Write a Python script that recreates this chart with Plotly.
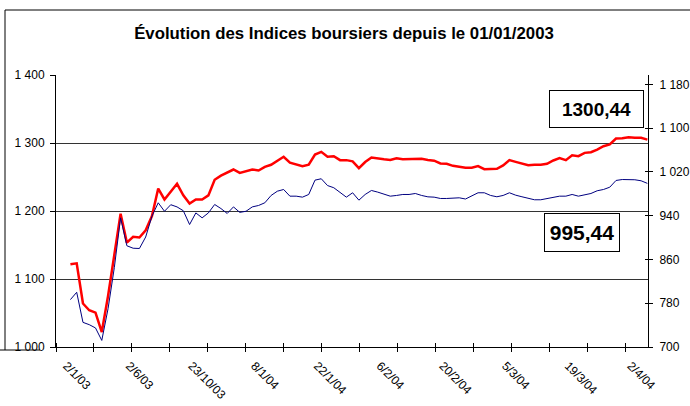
import plotly.graph_objects as go

# ---- data ----
dates = [
    "2/1/03", "17/1/03", "3/2/03", "17/2/03", "3/3/03", "17/3/03", "1/4/03", "15/4/03", "2/5/03", "16/5/03",
    "2/6/03", "16/6/03", "1/7/03", "15/7/03", "31/7/03", "14/8/03", "28/8/03", "11/9/03", "25/9/03", "9/10/03",
    "23/10/03", "30/10/03", "6/11/03", "13/11/03", "20/11/03", "27/11/03", "4/12/03", "11/12/03", "18/12/03", "7/1/04",
    "8/1/04", "9/1/04", "12/1/04", "13/1/04", "14/1/04", "15/1/04", "16/1/04", "19/1/04", "20/1/04", "21/1/04",
    "22/1/04", "23/1/04", "26/1/04", "27/1/04", "28/1/04", "29/1/04", "30/1/04", "2/2/04", "3/2/04", "4/2/04",
    "6/2/04", "9/2/04", "10/2/04", "11/2/04", "12/2/04", "13/2/04", "16/2/04", "17/2/04", "18/2/04", "19/2/04",
    "20/2/04", "23/2/04", "24/2/04", "25/2/04", "26/2/04", "27/2/04", "1/3/04", "2/3/04", "3/3/04", "4/3/04",
    "5/3/04", "8/3/04", "9/3/04", "10/3/04", "11/3/04", "12/3/04", "15/3/04", "16/3/04", "17/3/04", "18/3/04",
    "19/3/04", "22/3/04", "23/3/04", "24/3/04", "25/3/04", "26/3/04", "29/3/04", "30/3/04", "31/3/04", "1/4/04",
    "2/4/04", "5/4/04", "6/4/04",
]

# red series, left axis
indice_rouge = [
    1121.6, 1123, 1064, 1054, 1050.6, 1022, 1075, 1135, 1196, 1153.5,
    1162, 1161, 1171.6, 1192.6, 1233, 1217, 1229, 1240, 1223, 1211,
    1217, 1217, 1223, 1246, 1252, 1256, 1261, 1256, 1258.6, 1261,
    1259.6, 1265, 1268, 1274, 1279.7, 1271, 1269, 1266, 1268, 1283,
    1287, 1279.7, 1280.6, 1274.8, 1274.8, 1273, 1263, 1272, 1278.7, 1277,
    1276, 1275, 1277.5, 1276, 1276, 1277, 1276.7, 1275, 1274, 1270,
    1269.4, 1266.4, 1265, 1263.5, 1263.5, 1266, 1261.5, 1261.5, 1262, 1267,
    1274.8, 1272.3, 1269.4, 1267.4, 1268, 1268, 1269.4, 1274.3, 1277.7, 1274.8,
    1282, 1280.6, 1285.5, 1286.5, 1290.4, 1295.3, 1297.8, 1306.6, 1307, 1308.6,
    1307.6, 1307.6, 1305,
]

# blue series, right axis
indice_bleu = [
    786.6, 800, 745, 740.8, 734.8, 712, 770, 845, 936, 885,
    880.5, 880, 901, 939, 963.5, 948, 960, 956, 949, 923.8,
    945, 936, 945, 960.4, 953, 944, 956, 946, 948, 956,
    958.6, 963.5, 976.9, 984.7, 987.8, 975.6, 975.6, 973.8, 978.7, 1004.9,
    1007.4, 995, 991, 981.8, 973.8, 981.8, 968.3, 978.7, 986, 983,
    978.7, 975.6, 976.9, 978.7, 978.7, 980.5, 976.9, 974.4, 973.8, 971.4,
    971.4, 972.6, 972.6, 970.4, 975.6, 981.8, 981.8, 976.9, 974.5, 976.9,
    981.8, 977.4, 974.5, 971.4, 969, 969, 970.8, 973.8, 975.6, 975.6,
    978.7, 975.6, 978.7, 980.5, 985.5, 987.8, 992, 1004.3, 1006, 1006,
    1005.6, 1003.7, 999,
]

left_ticks = [1000, 1100, 1200, 1300, 1400]
left_labels = ["1 000", "1 100", "1 200", "1 300", "1 400"]
right_ticks = [700, 780, 860, 940, 1020, 1100, 1180]
right_labels = ["700", "780", "860", "940", "1 020", "1 100", "1 180"]

label_rouge = "1300,44"
label_bleu = "995,44"
title = "Évolution des Indices boursiers depuis le 01/01/2003"

# ---- figure ----
idx = list(range(len(dates)))
label_pos = idx[::10]
label_txt = [dates[i] for i in label_pos]
x_min, x_max = -2.3, 92.1
minor_ticks = [x_min + 6.05 * k for k in range(16)]

W, H = 690, 406
L, R, T, B = 56, 42, 75, 59
pw, ph = W - L - R, H - T - B


def px_to_paper(xp, yp):
    return (xp - L) / pw, (H - B - yp) / ph


FONT = "Liberation Sans, Arial, sans-serif"

fig = go.Figure()
fig.add_trace(go.Scatter(x=idx, y=indice_rouge, mode="lines", yaxis="y",
                         line=dict(color="#FF0000", width=2.5), showlegend=False))
fig.add_trace(go.Scatter(x=idx, y=indice_bleu, mode="lines", yaxis="y2",
                         line=dict(color="#000080", width=1), showlegend=False))
# empty trace so the overlay axes (inner half of the crossing tick marks) are drawn
fig.add_trace(go.Scatter(x=[None], y=[None], xaxis="x2", yaxis="y3", mode="lines",
                         showlegend=False, hoverinfo="skip"))

# outer frame (left and top edges visible in the crop)
fx0, fy0 = px_to_paper(5, 10)
fx1, _ = px_to_paper(692, 10)
_, fyb = px_to_paper(5, 350)
sx0, _ = px_to_paper(0, 350)
sx1, _ = px_to_paper(40, 350)
shapes = [
    dict(type="line", xref="paper", yref="paper", x0=fx0, y0=fy0, x1=fx1, y1=fy0,
         line=dict(color="black", width=1)),
    dict(type="line", xref="paper", yref="paper", x0=fx0, y0=fy0, x1=fx0, y1=fyb,
         line=dict(color="black", width=1)),
    dict(type="line", xref="paper", yref="paper", x0=sx0, y0=fyb, x1=sx1, y1=fyb,
         line=dict(color="black", width=1)),
]

a1x, a1y = px_to_paper(596, 109)
a2x, a2y = px_to_paper(582, 232.5)
annotations = [
    dict(text="<b>%s</b>" % label_rouge, xref="paper", yref="paper", x=a1x, y=a1y,
         xanchor="center", yanchor="middle", showarrow=False, width=93, height=36,
         bgcolor="white", bordercolor="black", borderwidth=1, borderpad=0,
         font=dict(size=19, color="black", family=FONT)),
    dict(text="<b>%s</b>" % label_bleu, xref="paper", yref="paper", x=a2x, y=a2y,
         xanchor="center", yanchor="middle", showarrow=False, width=74, height=37,
         bgcolor="white", bordercolor="black", borderwidth=1, borderpad=0,
         font=dict(size=21, color="black", family=FONT)),
]

fig.update_layout(
    width=W, height=H, autosize=False,
    margin=dict(l=L, r=R, t=T, b=B, autoexpand=False),
    paper_bgcolor="white", plot_bgcolor="white",
    font=dict(family=FONT, size=12, color="black"),
    title=dict(text="<b>%s</b>" % title, x=344 / W, xref="container", xanchor="center",
               y=1 - 33 / H, yref="container", yanchor="middle",
               font=dict(size=16.8, family=FONT, color="black")),
    xaxis=dict(range=[x_min, x_max], tickmode="array", tickvals=label_pos, ticktext=label_txt,
               tickangle=45, ticks="", showline=True, linecolor="black", linewidth=1,
               showgrid=False, zeroline=False, tickfont=dict(size=12), automargin=False,
               ticklabelshift=-4, ticklabelstandoff=6,
               minor=dict(tickmode="array", tickvals=minor_ticks, ticks="outside",
                          ticklen=4, tickcolor="black", showgrid=False)),
    xaxis2=dict(overlaying="x", anchor="y", side="bottom", range=[x_min, x_max],
                showticklabels=False, ticks="", showline=False, showgrid=False, zeroline=False,
                automargin=False,
                minor=dict(tickmode="array", tickvals=minor_ticks, ticks="inside",
                           ticklen=4, tickcolor="black", showgrid=False)),
    yaxis=dict(range=[1000, 1400], tickmode="array", tickvals=left_ticks, ticktext=left_labels,
               ticks="outside", ticklen=5, tickcolor="black", showline=True, linecolor="black",
               showgrid=True, gridcolor="#333333", gridwidth=1, zeroline=False,
               tickfont=dict(size=12), ticklabelstandoff=3, automargin=False),
    yaxis2=dict(range=[700, 1197], overlaying="y", side="right", tickmode="array",
                tickvals=right_ticks, ticktext=right_labels, ticks="outside", ticklen=4,
                tickcolor="black", showline=True, linecolor="black", showgrid=False,
                zeroline=False, tickfont=dict(size=12), ticklabelstandoff=4, automargin=False),
    yaxis3=dict(range=[700, 1197], overlaying="y", anchor="x2", side="right", tickmode="array",
                tickvals=right_ticks, showticklabels=False, ticks="inside", ticklen=3,
                tickcolor="black", showline=False, showgrid=False, zeroline=False,
                automargin=False),
    shapes=shapes,
    annotations=annotations,
)

fig.write_html("out.html", config={"displayModeBar": False},
               post_script="document.body.style.margin='0px';document.body.style.overflow='hidden';")
